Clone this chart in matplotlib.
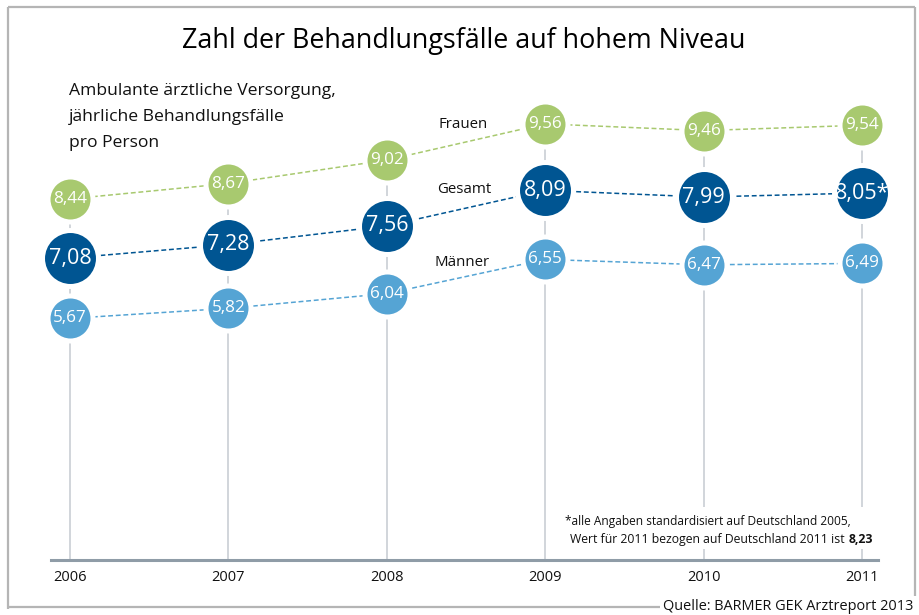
import matplotlib
matplotlib.use('Agg')
import matplotlib.pyplot as plt
from matplotlib.lines import Line2D
from matplotlib.patches import Rectangle
from matplotlib import font_manager

# ---------------- data ----------------
years = [2006, 2007, 2008, 2009, 2010, 2011]
frauen = [8.44, 8.67, 9.02, 9.56, 9.46, 9.54]
gesamt = [7.08, 7.28, 7.56, 8.09, 7.99, 8.05]
maenner = [5.67, 5.82, 6.04, 6.55, 6.47, 6.49]
series_names = ['Frauen', 'Gesamt', 'Männer']
title = 'Zahl der Behandlungsfälle auf hohem Niveau'
subtitle = ['Ambulante ärztliche Versorgung,', 'jährliche Behandlungsfälle', 'pro Person']
footnote1 = '*alle Angaben standardisiert auf Deutschland 2005,'
footnote2 = 'Wert für 2011 bezogen auf Deutschland 2011 ist'
footnote_value = '8,23'
source = 'Quelle: BARMER GEK Arztreport 2013'


def fmt(v):
    return f'{v:.2f}'.replace('.', ',')


# ---------------- style ----------------
GREEN = '#a8c96f'
DBLUE = '#005592'
LBLUE = '#55a4d4'
VLINE = '#c9ced4'
AXIS = '#8f9ca7'
BORDER = '#b5b5b5'
TXT = '#111111'

names = {f.name for f in font_manager.fontManager.ttflist}
FONT = 'Open Sans' if 'Open Sans' in names else 'DejaVu Sans'
TFONT = 'Liberation Sans Narrow' if 'Liberation Sans Narrow' in names else FONT
plt.rcParams['font.family'] = [FONT, 'DejaVu Sans']

W, H = 919, 615
fig = plt.figure(figsize=(W / 100, H / 100), dpi=100)
fig.patch.set_facecolor('white')


def fx(x):
    return x / W


def fy(y):
    return 1 - y / H


# border
for xs, ys in [([8, 8], [7, 609]), ([8, 915], [7, 7]), ([915, 915], [7, 596]), ([8, 660], [607, 607])]:
    fig.add_artist(Line2D([fx(v) for v in xs], [fy(v) for v in ys], color=BORDER, lw=1.6,
                          transform=fig.transFigure, solid_capstyle='butt'))

# ---------------- axes ----------------
step = 158.4
ax = fig.add_axes([fx(51), 55 / H, 827 / W, 490 / H])
ax.set_facecolor('none')
ax.set_xlim(2006 - 19 / step, 2011 + 16 / step)
ylim_f = (3.051, 10.364)
ylim_g = (2.573, 9.886)
ylim_m = (2.064, 9.377)
ax.set_ylim(*ylim_f)
for s in ['top', 'left', 'right']:
    ax.spines[s].set_visible(False)
ax.spines['bottom'].set_color(AXIS)
ax.spines['bottom'].set_linewidth(2.2)
ax.set_yticks([])
ax.set_xticks(years)
ax.set_xticklabels([str(y) for y in years])
ax.tick_params(axis='x', length=0, pad=7, labelsize=10.5, labelcolor=TXT)

ax.vlines(years, ylim_f[0], frauen, colors=VLINE, lw=1.2, zorder=1)

ax_g = ax.twinx()
ax_g.set_ylim(*ylim_g)
ax_g.axis('off')
ax_m = ax.twinx()
ax_m.set_ylim(*ylim_m)
ax_m.axis('off')

ms_small = 32.4
ms_big = 40.3
dash = (0, (3.2, 1.8))


def draw_series(a, vals, color, ms, fs, labels):
    a.plot(years, vals, ls=dash, lw=1.1, color=color, marker='o', ms=ms, mfc=color,
           mec='white', mew=3.6, zorder=3, clip_on=False)
    for x, v, lab in zip(years, vals, labels):
        a.text(x, v, lab, ha='center', va='center', color='white', fontsize=fs, zorder=4)


draw_series(ax, frauen, GREEN, ms_small, 12.3, [fmt(v) for v in frauen])
draw_series(ax_g, gesamt, DBLUE, ms_big, 15.5, [fmt(v) for v in gesamt[:-1]] + [fmt(gesamt[-1]) + '*'])
draw_series(ax_m, maenner, LBLUE, ms_small, 12.3, [fmt(v) for v in maenner])

# series labels
for name, (x, y) in zip(series_names, [(438, 128), (437, 193), (435, 266)]):
    fig.text(fx(x), fy(y), name, fontsize=10.8, color=TXT, va='baseline', ha='left')

# subtitle
for line, y in zip(subtitle, [95, 121, 147]):
    fig.text(fx(69), fy(y), line, fontsize=12.6, color=TXT, va='baseline', ha='left')

# title
t_title = fig.text(fx(464), fy(48), title, fontsize=22, color='black', ha='center', va='baseline',
                   family=[TFONT, 'DejaVu Sans'])

# footnote with white background
fig.add_artist(Rectangle((fx(560), fy(549)), (878 - 560) / W, (549 - 507) / H,
                         transform=fig.transFigure, facecolor='white', edgecolor='none', zorder=1))
fn1 = fig.text(fx(565), fy(525), footnote1, fontsize=8, color=TXT, va='baseline', ha='left', zorder=3)
fn2 = fig.text(fx(570), fy(543), footnote2, fontsize=8, color=TXT, va='baseline', ha='left', zorder=3)

t_src = fig.text(fx(663), fy(610), source, fontsize=10.5, color=TXT, va='baseline', ha='left')

fig.canvas.draw()
r = fig.canvas.get_renderer()


def fit(t, target):
    w = t.get_window_extent(r).width
    t.set_fontsize(t.get_fontsize() * target / w)


fit(t_title, 563)
fit(t_src, 252)
fit(fn1, 288)
fit(fn2, 277)
fig.canvas.draw()
ext = fn2.get_window_extent(r)
fig.text(ext.x1 / W + 4 / W, fy(543), footnote_value, fontsize=fn2.get_fontsize(), fontweight='bold',
         color=TXT, va='baseline', ha='left', zorder=3)

fig.savefig('out.png', dpi=100, facecolor='white')
